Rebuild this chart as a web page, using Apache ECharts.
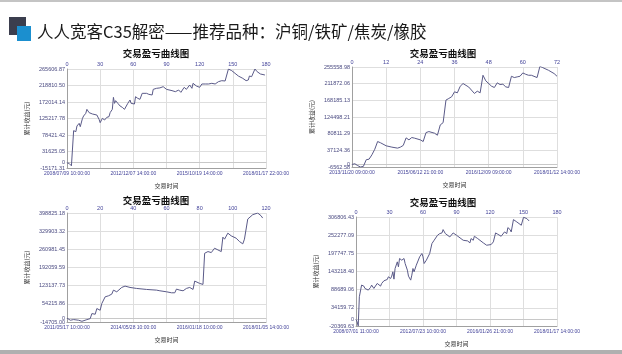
<!DOCTYPE html>
<html><head><meta charset="utf-8">
<script src="https://cdn.jsdelivr.net/npm/echarts@6/dist/echarts.min.js"></script>
<style>html,body{margin:0;padding:0;background:#fff}#c{width:622px;height:354px}</style>
</head><body><div id="c"></div>
<script>
const slideTitle = '人人宽客C35解密——推荐品种：沪铜/铁矿/焦炭/橡胶';
const chartTitle = '交易盈亏曲线图';
const xName = '交易时间';
const yName = '累计收益(元)';

// Chart 1 (top-left)
const c1Trades = [0,2,4,5,6,8,9,11,12,14,15,17,18,20,21,23,24,27,29,30,32,34,36,38,39,41,42,43,44,46,48,50,52,55,57,58,61,62,64,66,68,69,72,74,77,78,81,84,87,90,95,98,101,103,106,108,111,113,114,117,120,122,125,128,131,134,137,140,143,146,149,152,155,159,162,164,165,167,170,172,175,176,179];
const c1Equity = [0,-2500,-9000,-13300,90700,87900,103900,111500,102000,125700,132300,139900,151200,141800,146500,138000,141800,135100,122900,113400,125700,121000,128500,130400,141800,151200,185200,168200,175800,168200,160700,156900,151200,168200,177700,168200,166300,187100,182400,179600,196600,201300,196600,193800,191900,207900,210800,212000,215500,207900,204200,201300,206000,199400,213600,207900,220200,210800,225000,217400,213600,223100,223100,223100,225000,223100,229700,232500,231600,265600,260900,253300,245700,239100,232500,234400,245700,243900,265600,258000,251400,248600,248600];
const c1YTicks = [-15171.31,31625.05,78421.42,125217.78,172014.14,218810.50,265606.87];
const c1Dates = ['2008/07/09 10:00:00','2012/12/07 14:00:00','2015/10/19 14:00:00','2018/01/17 22:00:00'];

// Chart 2 (top-right)
const c2Trades = [0,1,2,3,4,5,6,7,8,9,10,12,14,16,17,18,19,20,21,22,24,25,26,27,29,30,31,32,33,34,35,36,37,38,39,41,43,44,45,46,47,49,50,51,52,53,54,55,56,57,58,59,60,61,62,63,65,66,67,69,71,72];
const c2Equity = [0,2000,-3000,-6500,-5000,12500,14000,25500,40000,60200,57000,49000,45500,42900,45500,50000,69800,64600,70700,69000,64600,60200,83700,86300,82000,76700,103700,109700,168800,173100,177500,190500,187900,205000,212200,203000,186200,192200,187900,233900,219200,205300,201800,214000,209600,210500,203500,201800,231300,227900,229600,231300,240000,236500,233900,233900,227900,257400,253900,247000,238300,231300];
const c2YTicks = [-6562.58,37124.36,80811.29,124498.21,168185.13,211872.06,255558.98];
const c2Dates = ['2013/11/20 09:00:00','2015/06/12 21:00:00','2016/12/09 09:00:00','2018/01/12 14:00:00'];

// Chart 3 (bottom-left)
const c3Trades = [0,2,4,5,7,9,12,14,15,17,18,19,20,21,23,24,25,27,28,30,31,33,35,38,42,48,54,56,60,63,65,66,68,70,72,74,76,77,78,80,82,83,85,86,87,89,91,93,94,95,97,99,102,104,106,107,108,109,110,112,113,115,117,118];
const c3Equity = [0,-8000,-5500,-1800,-8000,-12000,-5700,-1800,17200,14700,36300,32500,29900,55400,80800,87200,84600,91000,106200,99800,96100,116400,121500,116400,112600,108800,106200,103700,99900,96100,96100,110100,106200,103700,112600,116400,108800,140600,134200,131700,127900,246100,252500,256300,248700,265200,258800,252500,307200,299500,322400,312200,303300,290600,281700,299500,297000,375800,370700,392400,388500,398700,388500,379600];
const c3YTicks = [-14705.00,54215.86,123137.73,192059.59,260981.45,329903.32,398825.18];
const c3Dates = ['2011/05/17 10:00:00','2014/05/28 10:00:00','2016/01/18 10:00:00','2018/01/05 14:00:00'];

// Chart 4 (bottom-right)
const c4Trades = [0,1,2,3,4,5,7,8,11,13,14,16,17,19,20,22,23,25,26,28,29,31,32,33,34,35,37,38,39,41,43,44,46,47,49,50,51,52,54,55,57,59,60,61,63,64,66,67,68,70,71,73,75,77,78,80,81,84,87,90,96,100,102,103,105,106,109,114,117,121,123,125,127,130,133,135,136,138,139,141,144,148,150,153,155];
const c4Equity = [0,-8000,-20000,67400,62500,102400,99400,92400,87400,95400,102400,92400,87400,107400,112300,99400,107400,115300,109300,119300,127300,122300,129300,142300,120300,152200,172200,157200,182200,177200,182200,167200,147300,129300,117300,132300,152200,142300,162200,167200,187200,197200,187200,167200,177200,182200,197200,192200,227100,237100,242000,252000,257000,259000,269000,257000,262000,247000,259000,252000,237000,235000,229100,242000,237000,249000,242000,229100,222100,224100,232100,259000,255000,249000,262000,257000,275000,269000,262000,299000,292000,282000,306000,302000,295000];
const c4YTicks = [-20369.63,34159.72,88689.06,143218.40,197747.75,252277.09,306806.43];
const c4Dates = ['2008/07/01 11:00:00','2012/07/23 10:00:00','2016/01/26 21:00:00','2018/01/17 14:00:00'];

const panels = [
  {trades:c1Trades, equity:c1Equity, ticks:c1YTicks, dates:c1Dates, xMax:180, xStep:30, grid:{left:67, top:69, width:199, height:99}, title:{x:156, y:53}},
  {trades:c2Trades, equity:c2Equity, ticks:c2YTicks, dates:c2Dates, xMax:72, xStep:12, grid:{left:352, top:67, width:205, height:100}, title:{x:443, y:53}},
  {trades:c3Trades, equity:c3Equity, ticks:c3YTicks, dates:c3Dates, xMax:120, xStep:20, grid:{left:67, top:213, width:199, height:109}, title:{x:156, y:200}},
  {trades:c4Trades, equity:c4Equity, ticks:c4YTicks, dates:c4Dates, xMax:180, xStep:30, grid:{left:356, top:217, width:201, height:109}, title:{x:443, y:202}}
];

const labelColor = '#44449a';
const gridColor = '#dedede';
const font = 'Liberation Sans, Arial, sans-serif';

const option = {
  animation:false,
  backgroundColor:'#ffffff',
  grid:[], xAxis:[], yAxis:[], series:[],
  graphic:[
    {type:'rect', shape:{x:0,y:0,width:622,height:2}, style:{fill:'#c4c4c4'}},
    {type:'rect', shape:{x:0,y:350,width:622,height:4}, style:{fill:'#b0b0b0'}},
    {type:'rect', shape:{x:9,y:17,width:17,height:18}, style:{fill:'#3b3e4e'}},
    {type:'rect', shape:{x:17,y:26,width:14,height:15}, style:{fill:'#1b8fcf'}},
    {type:'text', x:37, y:32, style:{text:slideTitle, font:'16.5px "Noto Sans CJK SC", sans-serif', fill:'#1a1a1a', verticalAlign:'middle', textAlign:'left'}}
  ]
};

panels.forEach((p, i) => {
  option.grid.push(Object.assign({containLabel:false}, p.grid));
  option.graphic.push({type:'text', x:p.title.x, y:p.title.y, style:{text:chartTitle, font:'bold 9.5px "Noto Sans CJK SC", sans-serif', fill:'#111', textAlign:'center', verticalAlign:'middle'}});
  const topIdx = option.xAxis.length;
  option.xAxis.push({
    gridIndex:i, type:'value', position:'top', min:0, max:p.xMax, interval:p.xStep,
    axisLine:{show:true, lineStyle:{color:'#c8c8c8'}}, axisTick:{show:false},
    axisLabel:{color:labelColor, fontSize:5.5, margin:2, fontFamily:font},
    splitLine:{show:true, lineStyle:{color:gridColor, width:1}}
  });
  const dates = p.dates, step2 = p.xStep*2;
  option.xAxis.push({
    gridIndex:i, type:'value', position:'bottom', min:0, max:p.xMax, interval:step2,
    axisLine:{show:true, onZero:false, lineStyle:{color:'#a0a0a0'}}, axisTick:{show:false},
    axisLabel:{color:labelColor, fontSize:5, margin:3, fontFamily:font, formatter:v => dates[Math.round(v/step2)] || ''},
    splitLine:{show:false},
    name:xName, nameLocation:'middle', nameGap:15, nameTextStyle:{fontSize:6, color:'#333', fontFamily:'"Noto Sans CJK SC", sans-serif'}
  });
  const yIdx = option.yAxis.length;
  option.yAxis.push({
    gridIndex:i, type:'value', min:p.ticks[0], max:p.ticks[p.ticks.length-1],
    axisLine:{show:true, lineStyle:{color:'#a0a0a0'}},
    axisTick:{show:false, customValues:p.ticks},
    axisLabel:{customValues:p.ticks.concat([0]), color:'#4a4a80', fontSize:5.5, margin:2, fontFamily:font,
      formatter:v => v === 0 ? '0' : Number(v).toFixed(2)},
    splitLine:{show:true, lineStyle:{color:gridColor, width:1}},
    name:yName, nameLocation:'middle', nameGap:37, nameRotate:90,
    nameTextStyle:{fontSize:6, color:'#333', fontFamily:'"Noto Sans CJK SC", sans-serif'}
  });
  option.series.push({
    type:'line', xAxisIndex:topIdx, yAxisIndex:yIdx, showSymbol:false, symbol:'none',
    lineStyle:{color:'#5a5a88', width:1}, silent:true,
    data:p.trades.map((t, k) => [t, p.equity[k]])
  });
});

const chart = echarts.init(document.getElementById('c'), null, {renderer:'canvas'});
chart.setOption(option);
</script></body></html>
